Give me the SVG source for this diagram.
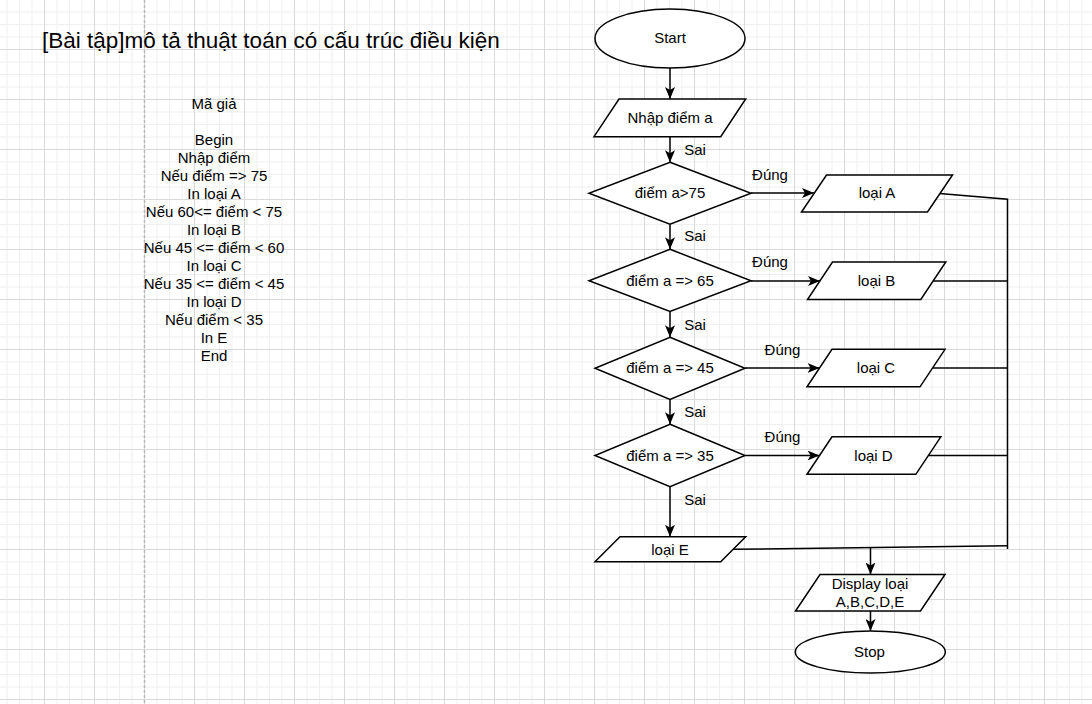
<svg xmlns="http://www.w3.org/2000/svg" width="1092" height="704" viewBox="0 0 1092 704">
<style>
text{font-family:"Liberation Sans",Arial,sans-serif;font-size:15px;fill:#000;text-anchor:middle}
.shape{fill:#fff;stroke:#000;stroke-width:1.5}
.edge{fill:none;stroke:#000;stroke-width:1.5}
.arrow{fill:none;stroke:#000;stroke-width:1.5;marker-end:url(#ah)}
.title{font-size:22.5px;text-anchor:start}
</style>
<defs>
<pattern id="grid" x="44" y="49" width="50" height="50" patternUnits="userSpaceOnUse">
<path d="M13 0V50M25.5 0V50M38 0V50M0 13H50M0 25.5H50M0 38H50" stroke="#efefef" stroke-width="1" fill="none"/>
<path d="M0.5 0V50M0 0.5H50" stroke="#d9d9d9" stroke-width="1" fill="none"/>
</pattern>
<marker id="ah" markerWidth="12" markerHeight="10" refX="12" refY="5" orient="auto" markerUnits="userSpaceOnUse">
<path d="M0,0 L12,5 L0,10 L3,5 Z" fill="#000"/>
</marker>
</defs>
<rect width="1092" height="704" fill="#fff"/>
<rect width="1092" height="704" fill="url(#grid)"/>
<line x1="144.5" y1="0" x2="144.5" y2="704" stroke="#b8b8b8" stroke-width="1.5" stroke-dasharray="3 2"/>

<g id="title"><text class="title" x="42" y="47.5">[Bài tập]mô tả thuật toán có cấu trúc điều kiện</text></g>

<g id="pseudocode">
<text x="214" y="109">Mã giả</text>
<text x="214" y="145">Begin</text>
<text x="214" y="163">Nhập điểm</text>
<text x="214" y="181">Nếu điểm =&gt; 75</text>
<text x="214" y="199">In loại A</text>
<text x="214" y="217">Nếu 60&lt;= điểm &lt; 75</text>
<text x="214" y="235">In loại B</text>
<text x="214" y="253">Nếu 45 &lt;= điểm &lt; 60</text>
<text x="214" y="271">In loại C</text>
<text x="214" y="289">Nếu 35 &lt;= điểm &lt; 45</text>
<text x="214" y="307">In loại D</text>
<text x="214" y="325">Nếu điểm &lt; 35</text>
<text x="214" y="343">In E</text>
<text x="214" y="361">End</text>
</g>

<g id="connectors">
<path class="arrow" d="M670 68V99"/>
<path class="arrow" d="M670 136.7V162.3"/>
<path class="arrow" d="M751 193H814"/>
<path class="arrow" d="M670 224.3V249.3"/>
<path class="arrow" d="M751 281H820"/>
<path class="arrow" d="M670 311.5V337.3"/>
<path class="arrow" d="M745 368H819.5"/>
<path class="arrow" d="M670 399.5V424.3"/>
<path class="arrow" d="M745 455.5H819.5"/>
<path class="arrow" d="M670 486.7V536.7"/>
<path class="edge" d="M939.5 193.5L1007.5 199.3V549"/>
<path class="edge" d="M933.3 281H1007.5"/>
<path class="edge" d="M932.7 368H1007.5"/>
<path class="edge" d="M928.3 455.5H1007.5"/>
<path class="edge" d="M732.7 549.3L1007.5 545.7"/>
<path class="arrow" d="M870.5 547.5V574.5"/>
<path class="arrow" d="M870.5 611V631"/>
<text x="695" y="155">Sai</text>
<text x="695" y="241">Sai</text>
<text x="695" y="330">Sai</text>
<text x="695" y="417">Sai</text>
<text x="695" y="505">Sai</text>
<text x="770" y="180">Đúng</text>
<text x="770" y="267">Đúng</text>
<text x="782.5" y="355">Đúng</text>
<text x="782.5" y="442">Đúng</text>
</g>

<g id="start">
<ellipse class="shape" cx="670" cy="38.5" rx="75" ry="29.5"/>
<text x="670" y="43">Start</text>
</g>
<g id="input">
<polygon class="shape" points="619,99 745.7,99 720.7,136.7 594,136.7"/>
<text x="670" y="123">Nhập điểm a</text>
</g>
<g id="cond1">
<polygon class="shape" points="670,162.3 751,193.2 670,224.2 589,193.2"/>
<text x="670" y="198">điểm a&gt;75</text>
</g>
<g id="cond2">
<polygon class="shape" points="670,249.3 751,280.7 670,311.5 589,280.7"/>
<text x="670" y="286">điểm a =&gt; 65</text>
</g>
<g id="cond3">
<polygon class="shape" points="670,337.3 745,368.3 670,399.4 595,368.3"/>
<text x="670" y="373">điểm a =&gt; 45</text>
</g>
<g id="cond4">
<polygon class="shape" points="670,424.3 745,455.5 670,486.7 595,455.5"/>
<text x="670" y="460.5">điểm a =&gt; 35</text>
</g>
<g id="loaiA">
<polygon class="shape" points="826.5,175 952.5,175 927.5,212 801.5,212"/>
<text x="877" y="198">loại A</text>
</g>
<g id="loaiB">
<polygon class="shape" points="832.5,262 945.8,262 920.8,299.5 807.5,299.5"/>
<text x="876.5" y="286">loại B</text>
</g>
<g id="loaiC">
<polygon class="shape" points="832,349.3 945,349.3 920,386.8 807,386.8"/>
<text x="876" y="373">loại C</text>
</g>
<g id="loaiD">
<polygon class="shape" points="832,436.8 940.8,436.8 915.8,474.3 807,474.3"/>
<text x="873.5" y="460.5">loại D</text>
</g>
<g id="loaiE">
<polygon class="shape" points="620,536.7 745.7,536.7 720.7,561.7 595,561.7"/>
<text x="670" y="554.5">loại E</text>
</g>
<g id="display">
<polygon class="shape" points="820,574.5 945,574.5 920.5,611 795.5,611"/>
<text x="870" y="589">Display loại</text>
<text x="870" y="607">A,B,C,D,E</text>
</g>
<g id="stop">
<ellipse class="shape" cx="870.3" cy="652" rx="75" ry="21"/>
<text x="869.5" y="657">Stop</text>
</g>
</svg>
